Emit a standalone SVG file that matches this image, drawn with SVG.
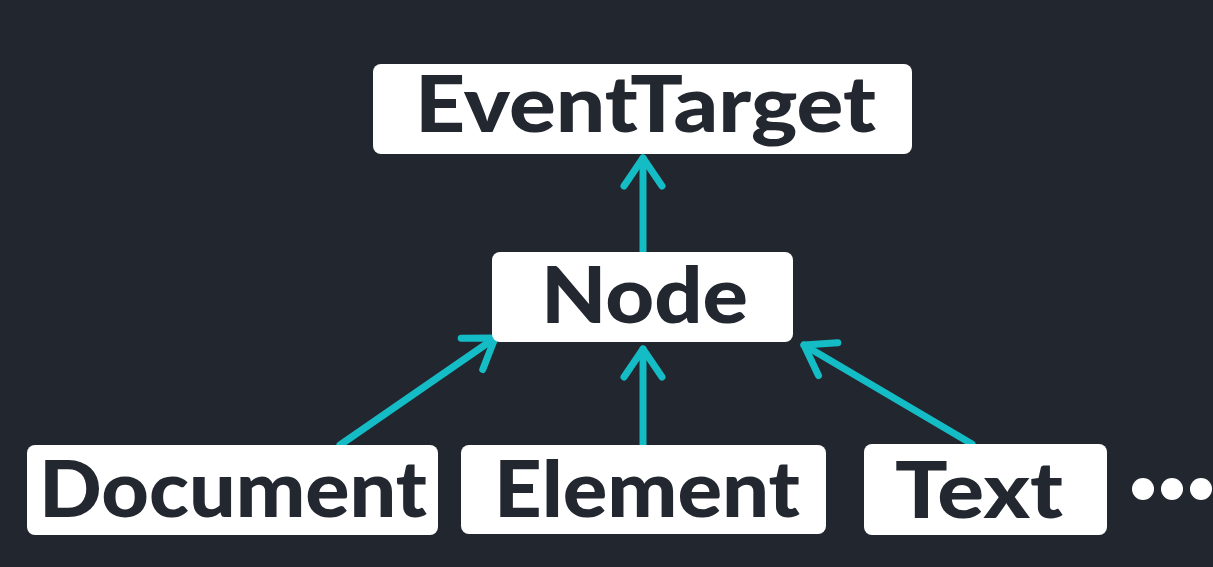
<svg xmlns="http://www.w3.org/2000/svg" width="1213" height="567" viewBox="0 0 1213 567">
<defs>
<style>
.box{fill:#ffffff;}
.lbl{font-family:"Lato","Liberation Sans",sans-serif;font-weight:900;font-size:78px;fill:#23272f;}
.conn{stroke:#14bcc6;stroke-width:7;fill:none;stroke-linecap:round;stroke-linejoin:round;}
.dot{fill:#ffffff;}
</style>
<marker id="ah" markerUnits="userSpaceOnUse" markerWidth="60" markerHeight="60" refX="0" refY="0" orient="auto" overflow="visible" viewBox="-40 -30 60 60">
<path d="M-28,-19 L0,0 L-28,19" fill="none" stroke="#14bcc6" stroke-width="7" stroke-linecap="round" stroke-linejoin="round"/>
</marker>
</defs>
<rect width="1213" height="567" fill="#22272f"/>
<g id="connectors">
<path class="conn" d="M643,252 L643,158" marker-end="url(#ah)"/>
<path class="conn" d="M340,445 L495,338" marker-end="url(#ah)"/>
<path class="conn" d="M643,445 L643,349" marker-end="url(#ah)"/>
<path class="conn" d="M972,444 L804,345" marker-end="url(#ah)"/>
</g>
<g id="node-eventtarget">
<rect class="box" x="373" y="64" width="539" height="90" rx="8"/>
<text class="lbl" x="415" y="132" textLength="461" lengthAdjust="spacingAndGlyphs">EventTarget</text>
</g>
<g id="node-node">
<rect class="box" x="492" y="252" width="301" height="90" rx="8"/>
<text class="lbl" x="541" y="323" textLength="207" lengthAdjust="spacingAndGlyphs">Node</text>
</g>
<g id="node-document">
<rect class="box" x="27" y="445" width="411" height="90" rx="8"/>
<text class="lbl" x="39" y="517" textLength="388" lengthAdjust="spacingAndGlyphs">Document</text>
</g>
<g id="node-element">
<rect class="box" x="461" y="445" width="365" height="89" rx="8"/>
<text class="lbl" x="494" y="517" textLength="306" lengthAdjust="spacingAndGlyphs">Element</text>
</g>
<g id="node-text">
<rect class="box" x="864" y="444" width="243" height="91" rx="8"/>
<text class="lbl" x="895" y="518" textLength="168" lengthAdjust="spacingAndGlyphs">Text</text>
</g>
<g id="ellipsis">
<circle class="dot" cx="1143" cy="489" r="11"/>
<circle class="dot" cx="1172" cy="489" r="11"/>
<circle class="dot" cx="1201" cy="489" r="11"/>
</g>
</svg>
